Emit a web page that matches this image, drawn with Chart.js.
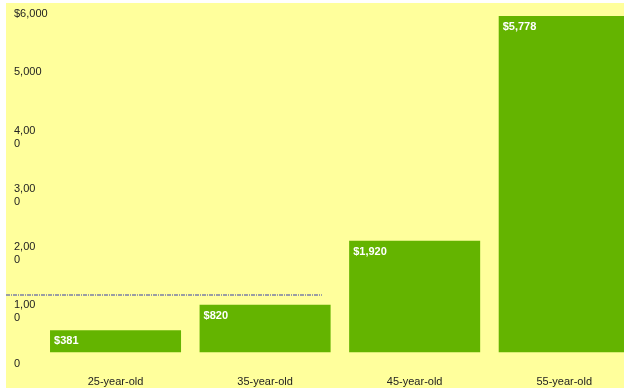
<!DOCTYPE html>
<html>
<head>
<meta charset="utf-8">
<script src="https://cdn.jsdelivr.net/npm/chart.js@4/dist/chart.umd.min.js"></script>
<style>
  html, body { margin: 0; padding: 0; overflow: hidden; background: #fff; width: 624px; height: 388px; }
  #wrap { position: absolute; left: 6px; top: 3px; width: 634px; height: 385px; background: #FFFF9C; }
</style>
</head>
<body>
<div id="wrap"><canvas id="savings" width="634" height="385"></canvas></div>
<script>
const ages = ['25-year-old', '35-year-old', '45-year-old', '55-year-old'];
const savings = [381, 820, 1920, 5778];
const barLabels = ['$381', '$820', '$1,920', '$5,778'];
const yTickLabels = ['0', ['1,00', '0'], ['2,00', '0'], ['3,00', '0'], ['4,00', '0'], '5,000', '$6,000'];
const refLine = 1000;

const fontFamily = '"Liberation Sans", Arial, sans-serif';

// white value labels in the top-left corner of each bar
const barText = {
  id: 'barText',
  afterDatasetsDraw(chart) {
    const ctx = chart.ctx;
    const meta = chart.getDatasetMeta(0);
    ctx.save();
    ctx.fillStyle = '#ffffff';
    ctx.font = 'bold 11px ' + fontFamily;
    ctx.textBaseline = 'middle';
    ctx.textAlign = 'left';
    meta.data.forEach((bar, i) => {
      const left = bar.x - bar.width / 2;
      ctx.fillText(barLabels[i], left + 4, bar.y + 11);
    });
    ctx.restore();
  }
};

// dotted reference line
const refLinePlugin = {
  id: 'refLine',
  afterDatasetsDraw(chart) {
    const ctx = chart.ctx;
    const y = Math.round(chart.scales.y.getPixelForValue(refLine)) + 1;
    const xEnd = chart.scales.x.getPixelForValue(1.38);
    ctx.save();
    ctx.strokeStyle = '#9a9ea4';
    ctx.lineWidth = 2;
    ctx.setLineDash([4, 1, 1, 1]);
    ctx.beginPath();
    ctx.moveTo(0, y);
    ctx.lineTo(xEnd, y);
    ctx.stroke();
    ctx.restore();
  }
};

// y labels hang below their tick, first line ~11px under it
const yLabels = {
  id: 'yLabels',
  afterDraw(chart) {
    const ctx = chart.ctx;
    const scale = chart.scales.y;
    ctx.save();
    ctx.fillStyle = '#222';
    ctx.font = '11px ' + fontFamily;
    ctx.textBaseline = 'middle';
    ctx.textAlign = 'left';
    scale.ticks.forEach((t, i) => {
      const lines = [].concat(yTickLabels[i]);
      const y = scale.getPixelForTick(i) + 11;
      lines.forEach((s, j) => ctx.fillText(s, 8, y + j * 13));
    });
    ctx.restore();
  }
};

new Chart(document.getElementById('savings'), {
  type: 'bar',
  data: {
    labels: ages,
    datasets: [{
      data: savings,
      backgroundColor: '#64B400',
      borderWidth: 0,
      categoryPercentage: 1,
      barPercentage: 0.876
    }]
  },
  options: {
    responsive: false,
    animation: false,
    devicePixelRatio: 1,
    layout: { padding: { left: 8, right: 1, top: 0, bottom: 0 } },
    plugins: {
      legend: { display: false },
      tooltip: { enabled: false }
    },
    scales: {
      x: {
        grid: { display: false, drawTicks: false },
        border: { display: false },
        ticks: {
          color: '#222',
          padding: 23,
          maxRotation: 0,
          font: { family: fontFamily, size: 11 }
        },
        afterFit: (scale) => { scale.height = 35.5; }
      },
      y: {
        min: 0,
        max: 6000,
        grid: { display: false, drawTicks: false },
        border: { display: false },
        ticks: {
          stepSize: 1000,
          display: false
        },
        afterFit: (scale) => { scale.width = 26.75; }
      }
    }
  },
  plugins: [barText, refLinePlugin, yLabels]
});
</script>
</body>
</html>
